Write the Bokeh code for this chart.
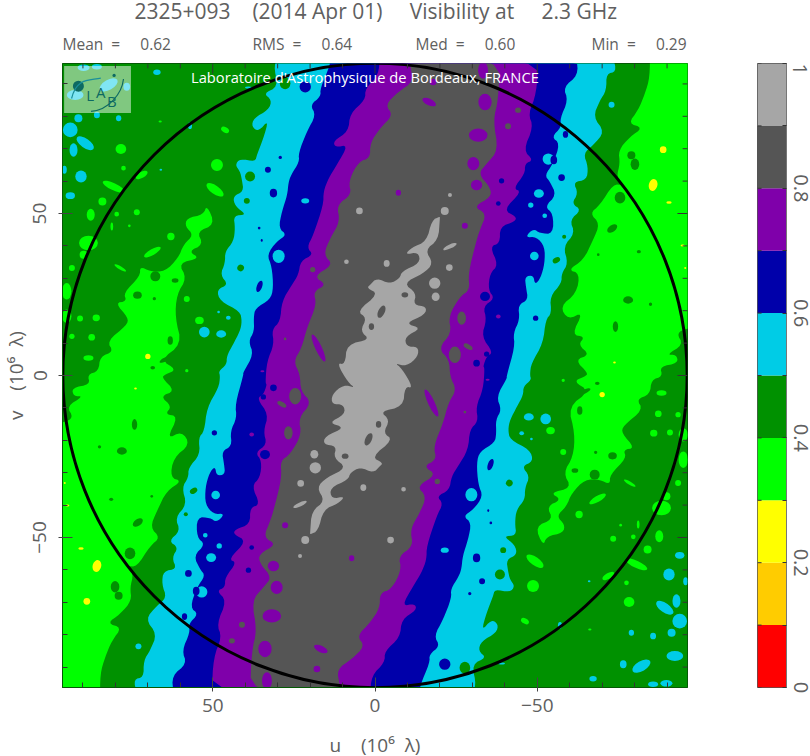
import numpy as np
from bokeh.embed import file_html
from bokeh.resources import INLINE
from bokeh.layouts import row, column
from bokeh.plotting import figure
from bokeh.models import Label, FixedTicker, Range1d
from bokeh.core.properties import value

NB = "\u00a0"
TITLE = "2325+093" + NB * 4 + "(2014 Apr 01)" + NB * 5 + "Visibility at" + NB * 5 + "2.3 GHz"
STAT_TEXT = ["Mean" + NB * 2 + "=" + NB * 5 + "0.62", "RMS" + NB * 2 + "=" + NB * 5 + "0.64",
             "Med" + NB * 2 + "=" + NB * 5 + "0.60", "Min" + NB * 2 + "=" + NB * 5 + "0.29"]
STAT_X = [63, 253, 416, 592]
LEVELS = [0, .1, .2, .3, .4, .5, .6, .7, .8, .9, 1]
COLORS = ["#ff0000", "#ffcc00", "#ffff00", "#00ff00", "#009100", "#00cce6", "#0000aa", "#7f00aa", "#555555", "#a6a6a6"]
RED, ORANGE, YELLOW, LIME, GREEN, CYAN, BLUE, PURPLE, GREY, LIGHT = COLORS

# contour edges on the +u side; the other side is the conjugate point (-u,-v)
CYAN_EDGE = [(29.2,98.9),(31.3,95.8),(29.8,89.1),(34.4,87.1),(31.8,85.0),(32.8,82.0),(37.4,79.4),(38.0,76.8),(35.9,75.3),(32.8,78.9),(34.4,73.2),(36.4,68.1),(36.9,66.0),(41.6,66.9),(43.1,65.0),(41.6,63.0),(41.0,60.4),(40.5,56.8),(43.8,55.3),(43.1,52.2),(39.5,49.6),(43.6,49.4),(43.1,45.5),(43.6,41.4),(46.2,38.3),(46.2,34.7),(47.7,31.1),(45.2,28.0),(48.8,26.5),(47.7,22.9),(41.6,19.8),(41.0,16.7),(41.6,13.7),(43.8,9.5),(45.7,6.0),(45.7,3.4),(48.2,1.3),(47.7,-0.2),(48.2,-3.8),(51.8,-10.0),(52.6,-17.2),(54.4,-19.2),(53.9,-24.4),(57.5,-28.5),(57.5,-31.5),(59.5,-34.6),(58.0,-39.8),(61.6,-43.9),(60.0,-48.0),(63.6,-51.1),(60.6,-53.1),(62.6,-56.2),(61.1,-59.8),(65.2,-60.3),(65.7,-64.4),(64.2,-68.5),(67.2,-71.1),(70.8,-75.2),(67.2,-79.8),(69.3,-84.9),(71.3,-88.0),(71.3,-93.2),(74.4,-93.7),(73.4,-98.3)]
BLUE_EDGE = [(13.8,98.9),(13.8,95.8),(16.9,88.6),(16.7,86.1),(20.0,83.5),(18.2,80.4),(21.0,75.3),(23.6,68.6),(23.3,66.0),(25.9,61.9),(26.7,59.4),(27.0,55.8),(28.7,50.6),(29.7,45.5),(27.2,43.4),(30.3,41.4),(33.3,37.3),(31.8,33.7),(31.3,27.0),(32.3,23.4),(36.9,20.8),(37.4,17.8),(37.2,13.7),(39.0,10.6),(37.4,6.5),(40.7,0.8),(40.5,0.3),(43.1,-8.9),(42.6,-13.1),(44.6,-17.2),(44.1,-21.8),(47.2,-23.3),(46.5,-27.4),(46.2,-30.5),(48.8,-31.0),(49.3,-28.0),(51.0,-30.0),(52.3,-34.6),(52.3,-39.8),(49.8,-42.8),(46.2,-42.6),(48.8,-45.4),(50.8,-43.9),(54.9,-43.7),(54.9,-50.0),(52.3,-52.1),(55.9,-55.7),(53.9,-59.8),(52.3,-61.8),(54.9,-65.4),(57.0,-71.6),(54.4,-73.6),(57.5,-76.7),(57.0,-79.3),(59.5,-84.9),(58.0,-89.0),(62.6,-92.6),(62.1,-98.3)]
PURPLE_EDGE = [(-1.5,99),(-1.1,92.7),(3.0,88.6),(3.0,85.0),(7.7,80.9),(8.2,75.3),(12.8,72.4),(12.3,70.4),(8.2,71.2),(11.8,65.0),(14.3,60.9),(15.9,56.8),(15.9,52.7),(19.0,43.4),(21.0,39.5),(19.0,37.3),(22.9,35.4),(23.6,31.1),(25.6,28.0),(28.7,22.9),(29.2,16.7),(31.8,14.2),(31.1,9.6),(33.3,4.4),(33.8,-2.3),(33.3,-2.8),(34.4,-5.9),(36.4,-7.1),(32.8,-12.0),(34.4,-17.2),(33.3,-21.3),(36.9,-23.8),(34.9,-26.4),(35.4,-31.5),(38.0,-34.1),(35.4,-39.8),(38.5,-40.8),(38.5,-45.9),(43.1,-47.5),(43.6,-49.0),(39.5,-51.1),(45.2,-56.7),(42.6,-57.7),(46.2,-62.3),(46.2,-65.4),(48.8,-66.5),(45.7,-69.5),(48.8,-76.7),(47.2,-80.8),(49.8,-87.0),(50.3,-98.3)]
GREY_EDGE = [(-10.8,98.9),(-10.8,95.8),(-11.8,90.7),(-7.2,87.6),(-3.1,83.5),(-5.6,80.4),(-1.5,76.3),(1.5,71.7),(1.5,67.1),(5.1,66.0),(8.2,59.9),(7.2,55.8),(11.8,52.7),(10.8,47.5),(13.8,42.4),(15.9,37.3),(12.8,34.2),(19.0,30.6),(14.9,28.0),(19.0,26.0),(18.0,21.9),(21.0,14.7),(22.6,8.5),(25.1,4.4),(23.1,0.3),(22.9,-4.8),(19.5,-8.4),(23.6,-13.1),(22.6,-18.2),(26.2,-24.4),(29.2,-26.4),(28.7,-31.5),(31.3,-41.8),(32.3,-44.9),(34.4,-50.0),(30.3,-52.1),(35.9,-55.2),(35.4,-58.2),(31.8,-62.3),(34.4,-65.4),(38.0,-69.5),(36.4,-78.8),(38.0,-85.0),(38.5,-98.3)]
LIGHT_EDGE = [(-20.0,49.1),(-17.5,47.9),(-15.9,41.4),(-11.3,39.5),(-9.2,37.3),(-13.4,38.1),(-13.9,34.7),(-8.2,32.1),(-7.7,30.1),(-4.6,28.2),(-0.5,30.1),(1.5,28.0),(2.5,27.0),(-1.1,25.2),(5.6,19.8),(2.5,17.8),(4.6,13.7),(1.5,11.1),(8.7,9.6),(9.2,3.4),(11.8,3.9),(8.2,-2.3),(6.1,-3.8),(9.7,-2.8),(13.3,-5.9),(13.3,-8.9),(9.7,-8.9),(9.2,-12.0),(14.4,-14.6),(9.2,-16.1),(15.4,-18.7),(15.9,-21.3),(11.8,-21.8),(12.8,-25.4),(8.7,-28.5),(14.9,-31.5),(18.0,-34.6),(15.4,-38.7),(19.5,-41.8),(20.0,-48.5)]
LIME_AREA = [(51.8,52.7),(52.9,49.6),(58.0,48.6),(58.5,46.0),(55.9,43.4),(59.0,40.4),(60.6,36.3),(64.7,32.1),(69.3,32.1),(72.4,33.7),(72.4,30.6),(77.5,25.5),(76.5,22.9),(80.1,22.4),(76.0,17.8),(76.5,15.5),(82.6,10.6),(80.6,7.3),(84.7,5.9),(85.2,1.3),(88.6,0.3),(87.8,-2.8),(93.4,-3.8),(92.9,-6.4),(89.8,-6.4),(95.0,-9.5),(92.9,-13.1),(96.2,-14.6),(101,-14.6),(101,-101),(84.7,-101),(84.7,-92.1),(83.2,-87.0),(81.1,-81.9),(78.0,-77.8),(82.6,-76.5),(78.5,-73.6),(75.0,-69.5),(75.5,-65.4),(74.4,-61.3),(76.5,-58.8),(73.4,-59.1),(69.3,-52.6),(66.2,-50.0),(69.3,-46.9),(67.2,-41.8),(64.2,-35.6),(59.5,-32.6),(63.1,-31.5),(62.1,-25.4),(57.0,-21.3),(59.5,-17.2),(64.2,-19.7),(60.6,-12.5),(64.7,-12.0),(62.6,-9.5),(66.2,-6.4),(61.6,-4.8),(65.7,-0.7),(64.7,0.3),(61.1,1.8),(66.2,4.9),(59.5,9.6),(61.6,17.8),(61.1,25.0),(58.0,30.1),(60.6,34.7),(53.9,36.2),(57.5,38.3),(52.9,40.4),(54.9,44.5),(49.3,46.5)]

# patches: u, v, semi-axis u, semi-axis v, tilt in degrees
LIME_SPOTS = [(48.7,65.0,1.85,1.85,0),(78.3,69.9,1.64,1.54,0),(49.3,57.3,3.1,1.3,-35),(84.0,53.7,1.23,1.23,0),(87.6,49.6,1.23,1.85,0),(73.4,50.4,.92,.92,0),(79.6,49.8,.72,.72,0),(80.6,58.3,3.6,1.1,-25),(71.9,61.9,2.05,.92,30),(68.6,38.1,2.9,.92,30),(78.5,33.2,2.05,.51,-30),(62.9,42.9,1.13,1.13,0),(46.2,75.8,1.33,.82,-30),(88.3,40.9,2.9,2.26,0),(89.8,37.3,1.23,1.23,0),(93.4,33.2,.92,.92,0),(95.0,26.0,1.44,2.57,0),(95.0,18.3,1.44,2.05,0),(90.9,17.6,.92,.92,0),(85.9,17.8,1.13,1.03,0),(87.3,11.8,1.03,1.03,0),(93.4,12.1,.82,.82,0),(88.3,5.4,1.54,.82,0),(54.1,17.0,1.33,1.13,0),(58.0,23.6,.92,.92,0),(77.5,64.0,.72,.72,0),(81.1,46.0,.41,1.23,0),(75.7,46.2,.41,.41,0),(66.2,78.4,.5,.3,0),(58.0,1.5,.51,.51,0)]
GREEN_SPOTS = [(27.7,90.2,1.64,1.85,0),(38.5,61.4,1.54,1.54,0),(39.5,53.9,.92,.92,0),(41.4,33.2,1.03,1.03,-30),(55.9,-35.6,1.23,.82,30),(58.3,-42.8,.62,.62,0),(67.7,30.6,1.54,1.54,0),(61.6,29.3,1.03,.7,0),(73.2,24.8,1.33,1.1,0),(68.0,23.7,.51,.51,0),(63.1,10.8,.82,1.33,0),(68.5,2.4,.72,.51,0),(64.7,4.9,1.85,.62,25),(74.1,-15.1,.82,1.64,0),(78.0,-23.3,1.54,1.13,0),(84.9,-22.0,.51,.51,0),(73.1,-45.4,1.75,1.03,35),(75.5,-54.9,1.64,1.85,0),(80.1,-65.2,1.33,1.75,0),(79.0,-68.0,1.23,1.23,0),(81.3,-38.2,.62,.5,0),(68.8,-37.3,.41,.41,0)]
CYAN_SPOTS = [(93.9,75.8,2.26,2.26,0),(89.3,71.7,3.1,1.44,-35),(92.9,69.6,1.23,2.05,0),(90.6,61.4,1.75,1.85,0),(93.9,55.5,1.44,1.03,0),(95.7,63.5,.72,1.23,0),(67.2,93.6,1.13,.82,0),(57.0,77.1,.62,1.03,0),(79.0,79.4,.82,.92,0),(85.7,80.4,.92,1.03,0),(91.4,79.4,1.23,1.23,0),(52.6,13.4,1.64,1.64,0),(47.4,12.8,1.54,1.13,0),(45.2,17.8,.72,.62,0),(48.2,19.6,.41,.41,0),(39.0,88.9,1.03,.31,0),(89.8,95.0,1.85,1.03,0),(82.1,89.7,3.1,1.54,30),(76.5,89.1,1.03,1.23,0),(85.7,95.3,1.54,.82,0),(92.4,86.6,2.57,1.54,0),(66.0,63.5,.41,.3,0),(72.9,-83.6,.92,.92,0),(21.5,53.9,1.23,.82,0),(29.7,36.8,1.85,2.05,0),(49.1,-36.9,1.33,1.33,0),(52.3,-49.3,.72,.72,0),(48.0,-52.6,.82,.82,0),(50.5,-56.2,1.54,1.33,0),(53.4,-66.8,1.75,1.75,0)]
BLUE_SPOTS = [(21.5,89.1,1.75,1.75,0),(33.0,63.5,.92,.92,0),(29.2,67.3,.51,.51,0),(31.3,56.3,1.13,1.33,0),(35.6,27.5,.82,1.85,-20),(35.7,45.5,.41,.41,0),(34.9,41.7,.31,.41,0),(49.5,-17.7,.82,.82,0),(57.5,-61.1,1.03,1.03,0),(55.1,-66.5,1.03,1.33,0),(58.7,-74.4,.82,1.03,0),(31.3,-3.8,1.03,1.03,0),(34.4,-6.6,.82,.82,0),(33.9,-24.4,1.54,1.44,0),(38.0,-53.1,.72,.72,0),(39.0,-60.1,.82,.82,0)]
PURPLE_SPOTS = [(38.0,-18.2,.72,.6,0),(34.7,1.3,.62,.31,0),(33.9,-84.4,2.05,2.57,0),(31.8,-74.2,2.87,2.05,0),(30.3,-65.4,1.85,2.05,0),(31.3,-58.8,1.75,1.64,0),(27.7,-46.2,.92,.92,0),(7.2,-56.4,.82,.92,0),(17.9,-90.6,1.03,1.03,0),(16.7,-84.4,2.26,1.0,-25),(17.4,8.5,1.0,4.6,25),(33.3,-94.2,1.54,2.57,0)]
GREY_SPOTS = [(26.7,-17.7,1.33,2.05,0),(24.6,-6.4,1.85,2.57,0),(41.0,-76.9,.92,.92,0),(44.1,-81.9,.92,.82,0),(19.2,32.7,.82,.82,0),(28.7,-8.9,1.54,.72,-30),(27.7,11.3,.41,.41,0),(2.0,-19.7,1.0,2.05,-25),(9.2,-24.9,1.03,.82,0),(-1.1,-15.1,.82,1.03,0),(1.0,15.2,.51,.51,0)]
LIGHT_SPOTS = [(4.8,50.8,1.03,1.03,0),(8.8,35.1,.72,.72,0),(18.7,-24.3,1.23,1.33,0),(18.4,-28.5,1.75,1.75,0),(22.9,-33.3,1.03,1.03,0),(23.1,-39.8,2.26,.62,25),(21.5,-50.8,1.23,1.23,0),(23.1,-55.7,.62,.62,0),(3.6,-34.6,.92,1.03,0)]
YELLOW_SPOTS = [(70.0,5.9,.82,.82,0),(85.7,-58.8,1.33,1.85,-15),(88.8,-69.7,1.03,1.03,0),(90.6,-53.4,.82,.41,0),(73.8,-4.0,.41,.31,0),(94.8,-40.1,.62,.31,0),(95.6,-33.2,.31,.31,0)]

LIM = 96.3
TEXT = "#606060"
FONT = "Open Sans"

head = figure(output_backend="svg", toolbar_location=None, x_range=Range1d(0, 810), y_range=Range1d(64, 0),
              frame_width=810, frame_height=64, min_border=0, x_axis_location=None, y_axis_location=None,
              outline_line_color=None)
head.grid.visible = False
head.text([135], [11], text=[TITLE], text_font=value(FONT), text_font_size="21px", text_color=TEXT, text_baseline="middle")
head.text(STAT_X, [44] * 4, text=STAT_TEXT, text_font=value(FONT), text_font_size="15.5px", text_color=TEXT, text_baseline="middle")

p = figure(output_backend="svg", toolbar_location=None, x_range=Range1d(LIM, -LIM), y_range=Range1d(-LIM, LIM),
           frame_width=625, frame_height=624, min_border_left=62, min_border_top=0, min_border_right=10,
           min_border_bottom=68, background_fill_color=GREEN, outline_line_color="#045a04")
p.grid.visible = False


def smooth(x, y, rounds=2):
    for _ in range(rounds):
        xn, yn = np.roll(x, -1), np.roll(y, -1)
        x = np.column_stack([.75 * x + .25 * xn, .25 * x + .75 * xn]).ravel()
        y = np.column_stack([.75 * y + .25 * yn, .25 * y + .75 * yn]).ravel()
    return x, y


def ring(edge):
    a = np.array(edge, dtype=float)
    return smooth(np.concatenate([a[:, 0], -a[:, 0]]), np.concatenate([a[:, 1], -a[:, 1]]))


def spots(items, color):
    a = np.array(items, dtype=float)
    p.ellipse(np.concatenate([a[:, 0], -a[:, 0]]), np.concatenate([a[:, 1], -a[:, 1]]),
              width=np.concatenate([a[:, 2], a[:, 2]]) * 2, height=np.concatenate([a[:, 3], a[:, 3]]) * 2,
              angle=np.radians(np.concatenate([a[:, 4], a[:, 4]])), fill_color=color, line_color=None)


a = np.array(LIME_AREA, dtype=float)
lx, ly = smooth(a[:, 0], a[:, 1])
p.patches([lx.tolist(), (-lx).tolist()], [ly.tolist(), (-ly).tolist()], fill_color=LIME, line_color=None)
spots(LIME_SPOTS, LIME)
for edge, col in [(CYAN_EDGE, CYAN), (BLUE_EDGE, BLUE), (PURPLE_EDGE, PURPLE), (GREY_EDGE, GREY), (LIGHT_EDGE, LIGHT)]:
    x, y = ring(edge)
    p.patch(x, y, fill_color=col, line_color=None)
spots(GREEN_SPOTS, GREEN)
spots(CYAN_SPOTS, CYAN)
spots(BLUE_SPOTS, BLUE)
spots(PURPLE_SPOTS, PURPLE)
spots(GREY_SPOTS, GREY)
spots(LIGHT_SPOTS, LIGHT)
spots(YELLOW_SPOTS, YELLOW)

p.circle([0], [0], radius=96.2, fill_color=None, line_color="black", line_width=3)

# logo panel
p.quad(left=[95.8], right=[75.2], top=[95.5], bottom=[81.0], fill_color="white", fill_alpha=0.5, line_color=None)
TEAL = "#0d6a62"
p.ellipse([91.4], [89.3], width=3.4, height=3.4, fill_color=TEAL, line_color=None)
p.ellipse([80.4], [92.6], width=1.0, height=1.0, fill_color=TEAL, line_color=None)
p.bezier(x0=[93.5], y0=[85.5], x1=[84.5], y1=[91.8], cx0=[92], cy0=[92], cx1=[88], cy1=[91], line_color="#1a8f9a", line_width=1.2)
p.bezier(x0=[87.5], y0=[81.5], x1=[77.5], y1=[91.5], cx0=[82], cy0=[82], cx1=[78], cy1=[87], line_color=TEAL, line_width=1.2)
for ch, uu, vv in [("L", 89.0, 83.5), ("A", 86.0, 84.5), ("B", 82.6, 81.5)]:
    p.add_layout(Label(x=uu, y=vv, text=ch, text_font=FONT, text_font_size="15px", text_color=TEAL))

TICKS = [-50, 0, 50]
MINOR = [-90, -80, -70, -60, -40, -30, -20, -10, 10, 20, 30, 40, 60, 70, 80, 90]


def style(ax, label, gap, stand):
    ax.ticker = FixedTicker(ticks=TICKS, minor_ticks=MINOR)
    ax.major_tick_in = 10
    ax.major_tick_out = 4
    ax.minor_tick_in = 5
    ax.minor_tick_out = 0
    ax.axis_line_color = "#045a04"
    ax.major_tick_line_color = "#444444"
    ax.minor_tick_line_color = "#333333"
    ax.major_label_text_font = FONT
    ax.major_label_text_font_size = "19px"
    ax.major_label_text_color = TEXT
    ax.major_label_standoff = stand
    ax.axis_label = label
    ax.axis_label_text_font = FONT
    ax.axis_label_text_font_style = "normal"
    ax.axis_label_text_font_size = "19px"
    ax.axis_label_text_color = TEXT
    ax.axis_label_standoff = gap


style(p.below[0], "u" + NB * 4 + "(10⁶" + NB * 2 + "λ)", 17, 7)
style(p.left[0], "v" + NB * 4 + "(10⁶" + NB * 2 + "λ)", 2, 12)
p.left[0].major_label_orientation = "vertical"

# tick marks of the top and right frame edges
ALL_T = TICKS + MINOR
LEN_T = [3.1] * len(TICKS) + [1.5] * len(MINOR)
p.segment(ALL_T, [LIM] * len(ALL_T), ALL_T, [LIM - d for d in LEN_T], line_color="#333333")
p.segment([-LIM] * len(ALL_T), ALL_T, [-LIM + d for d in LEN_T], ALL_T, line_color="#333333")

p.add_layout(Label(x=56.7, y=92.1, text="Laboratoire d'Astrophysique de Bordeaux, FRANCE", text_font=FONT,
                   text_font_size="14.7px", text_color="white", text_baseline="middle"))

cb = figure(output_backend="svg", toolbar_location=None, x_range=Range1d(0, 1), y_range=Range1d(0, 1),
            frame_width=29, frame_height=624, min_border_left=60, min_border_top=0, min_border_right=24,
            min_border_bottom=68, outline_line_color="#555555", x_axis_location=None, y_axis_location="right")
cb.grid.visible = False
cb.quad(left=[0] * 10, right=[1] * 10, bottom=LEVELS[:-1], top=LEVELS[1:], fill_color=COLORS, line_color=None)
CB_TICKS = [0, 0.2, 0.4, 0.6, 0.8, 1]
CB_MINOR = [0.1, 0.3, 0.5, 0.7, 0.9]
ax = cb.right[0]
ax.ticker = FixedTicker(ticks=CB_TICKS, minor_ticks=CB_MINOR)
ax.major_tick_in = 4
ax.major_tick_out = 0
ax.minor_tick_in = 4
ax.minor_tick_out = 0
ax.axis_line_color = "#777777"
ax.major_tick_line_color = "#333333"
ax.minor_tick_line_color = "#333333"
ax.major_label_text_font = FONT
ax.major_label_text_color = TEXT
ax.major_label_text_font_size = "20px"
ax.major_label_standoff = 7
ax.major_label_orientation = "vertical"
cb.segment([0] * 11, LEVELS, [0.14] * 11, LEVELS, line_color="#333333")

page = column(head, row(p, cb, spacing=0), spacing=0)
page.styles = {"margin-left": "-1px", "margin-top": "-1px"}
open("out.html", "w").write(file_html(page, INLINE))
